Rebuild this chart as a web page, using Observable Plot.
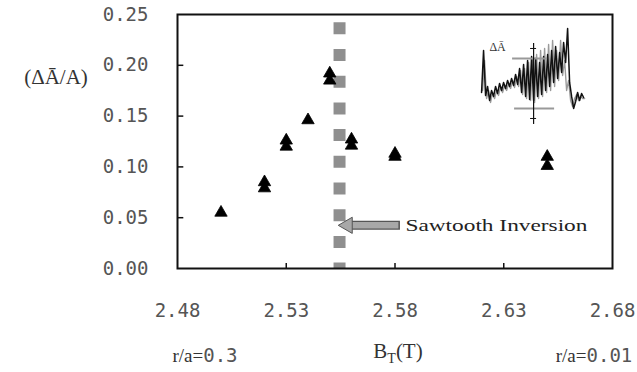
<!DOCTYPE html>
<html><head><meta charset="utf-8">
<script src="https://cdn.jsdelivr.net/npm/d3@7"></script>
<script src="https://cdn.jsdelivr.net/npm/@observablehq/plot@0.6"></script>
<style>
body{margin:0;background:#fff}
#chart{position:relative;width:637px;height:372px;overflow:hidden}
.lbl{position:absolute;white-space:nowrap;color:#333;transform:translate(-50%,-50%)}
.serif{font-family:"Liberation Serif","DejaVu Serif",serif}
.sans{font-family:"DejaVu Sans Mono",monospace;color:#555}
</style>
</head><body><div id="chart"></div>
<script>
// Measured toroidal field B_T (T) and relative amplitude (ΔĀ/A)
const bt    = [2.50, 2.52, 2.52, 2.53, 2.53, 2.54, 2.55, 2.55, 2.56, 2.56, 2.58, 2.58, 2.65, 2.65];
const ratio = [0.055,0.079,0.085,0.120,0.126,0.146,0.185,0.192,0.121,0.127,0.110,0.113,0.101,0.110];
const xTicks = [2.48, 2.53, 2.58, 2.63, 2.68];
const yTicks = [0.00, 0.05, 0.10, 0.15, 0.20, 0.25];
const xInnerTicks = [2.53, 2.58, 2.63];
const yInnerTicks = [0.05, 0.10, 0.15, 0.20];
const inversionBT = 2.5545;
const inversionLabel = "Sawtooth Inversion";
// inset signal trace (arbitrary units)
const insetBlack = [28,70,25,34,20,30,24,34,27,37,30,38,32,40,34,42,35,46,36,52,28,56,24,60,21,64,20,62,24,58,26,64,30,66,34,70,38,74,42,68,48,78,58,92,38,24,12,19,28,20,27,23];
const insetGray  = [30,60,22,30,18,28,22,30,25,34,28,35,30,37,32,40,33,44,34,50,26,52,22,58,20,62,18,66,22,70,24,72,28,76,30,80,34,70,40,80,45,60,30,40,20,14,22,26,20,24,22,22];
const insetLevels = [62, 12];   // upper / lower ΔĀ levels
const insetLabel = "ΔĀ";

const points = bt.map((b, i) => ({bt: b, r: ratio[i]}));
// inset placement (in data units of the main chart)
const ix0 = 2.6198, idx = 0.00092, iy0 = 0.1457, idy = 1 / 1016;
const ix = i => ix0 + i * idx, iy = v => iy0 + v * idy;
const black = insetBlack.map((v, i) => ({x: ix(i), y: iy(v)}));
const gray = insetGray.map((v, i) => ({x: ix(i) + idx * 0.5, y: iy(v)}));
const bars = [
  {x1: ix(15.5), x2: ix(33), y: iy(insetLevels[0])},
  {x1: ix(16.5), x2: ix(36.5), y: iy(insetLevels[1])}
];
const fmt = d => d3.format(".2f")(d);

const plot = Plot.plot({
  width: 637, height: 372,
  marginLeft: 177, marginRight: 25, marginTop: 14, marginBottom: 104,
  x: {domain: [2.48, 2.68]},
  y: {domain: [0, 0.25]},
  style: {background: "transparent"},
  marks: [
    Plot.ruleX([inversionBT], {x: d => d, y1: 0.25, y2: 0, stroke: "#8f8f8f", strokeWidth: 12,
      strokeDasharray: "12 14.7", strokeDashoffset: 18.4}),
    // inset
    Plot.line(gray, {x: "x", y: "y", stroke: "#9a9a9a", strokeWidth: 1.4}),
    Plot.line(black, {x: "x", y: "y", stroke: "#111", strokeWidth: 1.5}),
    Plot.ruleY(bars, {x1: "x1", x2: "x2", y: "y", stroke: "#999", strokeWidth: 2}),
    Plot.ruleX([ix(26)], {x: d => d, y1: iy(77), y2: iy(-4), stroke: "#111", strokeWidth: 1.2}),
    Plot.ruleY([iy(insetLevels[0] + 10), iy(insetLevels[1] - 10)], {y: d => d, x1: ix(24.5), x2: ix(27.5), stroke: "#111"}),
    Plot.text([insetLabel], {x: ix(8), y: iy(73), text: d => d, fontSize: 12, fontFamily: "Liberation Serif", fill: "#333"}),
    // arrow annotation
    Plot.ruleY([0.0425], {y: d => d, x1: 2.5575, x2: 2.5825, stroke: "#555", strokeWidth: 9}),
    Plot.ruleY([0.0425], {y: d => d, x1: 2.5575, x2: 2.5818, stroke: "#a8a8a8", strokeWidth: 6.5}),
    Plot.dot([0.0425], {x: 2.5582, y: d => d, symbol: "triangle", rotate: -90, r: 6, fill: "#a8a8a8", stroke: "#555", strokeWidth: 1}),
    Plot.text([inversionLabel], {x: 2.5848, y: 0.0425, text: d => d, textAnchor: "start", fontSize: 17,
      fontFamily: "Liberation Serif", fill: "#222", className: "inv"}),
    // data
    Plot.dot(points, {x: "bt", y: "r", symbol: "triangle", r: 4.6, fill: "#000", stroke: "#000", strokeWidth: 0.8}),
    Plot.frame({stroke: "#111", strokeWidth: 2}),
    // inward ticks
    Plot.ruleY(yInnerTicks, {y: d => d, x1: 2.48, x2: 2.4829, stroke: "#111", strokeWidth: 1.5}),
    Plot.ruleX(xInnerTicks, {x: d => d, y1: 0, y2: 0.005, stroke: "#111", strokeWidth: 1.5}),
    Plot.axisY({ticks: yTicks, tickSize: 0, tickPadding: 29, tickFormat: fmt, fontSize: 19,
      fontFamily: "DejaVu Sans Mono", fill: "#555"}),
    Plot.axisX({ticks: xTicks, tickSize: 0, tickPadding: 35, tickFormat: fmt, fontSize: 19,
      fontFamily: "DejaVu Sans Mono", fill: "#555"})
  ]
});
const chart = document.getElementById("chart");
chart.appendChild(plot);
d3.select(plot).selectAll(".inv text").attr("textLength", 182).attr("lengthAdjust", "spacingAndGlyphs");

function label(html, x, y, size, cls) {
  const d = document.createElement("div");
  d.className = "lbl " + cls;
  d.style.left = x + "px"; d.style.top = y + "px"; d.style.fontSize = size + "px";
  d.innerHTML = html;
  chart.appendChild(d);
}
label("(ΔĀ/A)", 56, 77, 21, "serif");
label('<span class="serif">r/a=</span><span class="sans">0.3</span>', 205, 355, 19, "");
label("B<sub style='font-size:14px'>T</sub>(T)", 398, 353, 21, "serif");
label('<span class="serif">r/a=</span><span class="sans">0.01</span>', 594, 355, 19, "");
</script>
</body></html>
